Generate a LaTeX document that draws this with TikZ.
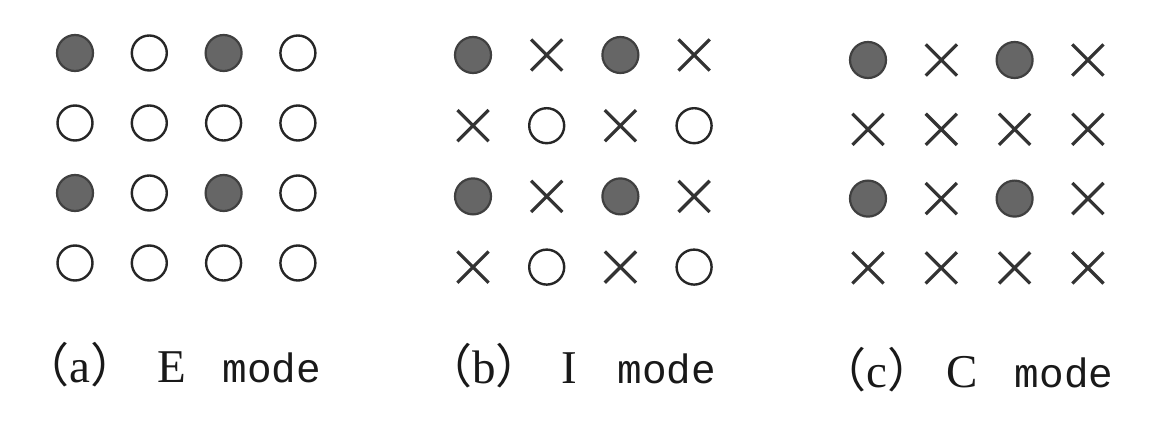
\documentclass[tikz,border=0pt]{standalone}
\usepackage{fontspec}
\setmainfont{Liberation Serif}
\setmonofont{Liberation Mono}
\newfontfamily\jpfont{Noto Sans CJK JP}
\usetikzlibrary{shapes.misc}
\tikzset{
  dotF/.style={circle, draw=black!75, line width=2.2pt, fill=black!60, minimum size=36pt, inner sep=0pt},
  dotO/.style={circle, draw=black!85, line width=2.4pt, fill=white, minimum size=35pt, inner sep=0pt},
  dotX/.style={cross out, draw=black!80, line width=3.2pt, minimum size=28pt, inner sep=0pt},
  lab/.style={font=\fontsize{47}{50}\selectfont, text=black!90, inner sep=0pt, anchor=base},
  labm/.style={font=\ttfamily\fontsize{41}{44}\selectfont, text=black!90, inner sep=0pt, anchor=base}
}
\newcommand\lpar{{\jpfont （}}
\newcommand\rpar{{\jpfont ）}}
\begin{document}
\begin{tikzpicture}[x=1pt,y=-1pt]
\useasboundingbox (0,0) rectangle (1152,422);
\fill[white] (0,0) rectangle (1152,422);
% panel (a)
\foreach \t [count=\k from 0] in {F,O,F,O,O,O,O,O,F,O,F,O,O,O,O,O}{
  \pgfmathsetmacro\cc{mod(\k,4)}\pgfmathsetmacro\rr{int(\k/4)}
  \node[dot\t] (a-\k) at ({75+\cc*74.3},{53+\rr*70}) {};
}
% panel (b)
\foreach \t [count=\k from 0] in {F,X,F,X,X,O,X,O,F,X,F,X,X,O,X,O}{
  \pgfmathsetmacro\cc{mod(\k,4)}\pgfmathsetmacro\rr{int(\k/4)}
  \node[dot\t] (b-\k) at ({473+\cc*73.7},{55+\rr*70.7}) {};
}
% panel (c)
\foreach \t [count=\k from 0] in {F,X,F,X,X,X,X,X,F,X,F,X,X,X,X,X}{
  \pgfmathsetmacro\cc{mod(\k,4)}\pgfmathsetmacro\rr{int(\k/4)}
  \node[dot\t] (c-\k) at ({868+\cc*73.3},{60+\rr*69.3}) {};
}
% labels
\node[lab] (la1) at (80,382) {\lpar a\rpar};
\node[lab] (la2) at (172,382) {E};
\node[labm] (la3) at (272,382) {mode};
\node[lab] (lb1) at (484,383) {\lpar b\rpar};
\node[lab] (lb2) at (569,383) {I};
\node[labm] (lb3) at (667,383) {mode};
\node[lab] (lc1) at (877,387) {\lpar c\rpar};
\node[lab] (lc2) at (962,387) {C};
\node[labm] (lc3) at (1064,387) {mode};
\end{tikzpicture}
\end{document}
